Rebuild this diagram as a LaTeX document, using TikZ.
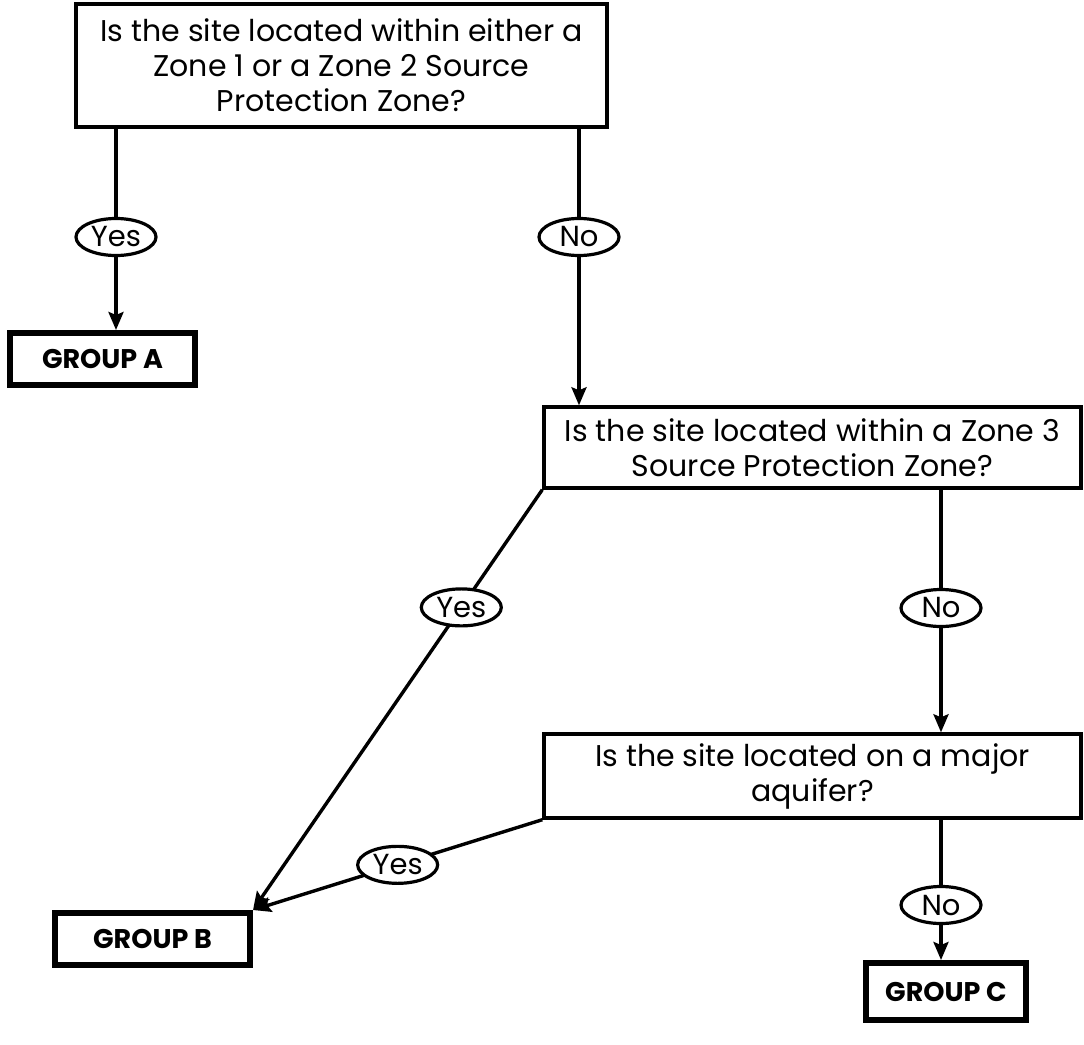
\documentclass[tikz,border=0pt]{standalone}
\usepackage{fontspec}
\setmainfont{Poppins}
\usetikzlibrary{shapes.geometric,arrows.meta,backgrounds,calc}
\begin{document}
\begin{tikzpicture}[x=1pt,y=-1pt,
  question/.style={draw,line width=3.4pt,rectangle,align=center,inner sep=0pt,
    font=\fontsize{30}{35}\selectfont},
  group/.style={draw,line width=6pt,rectangle,inner sep=0pt,
    font=\fontsize{27}{32}\selectfont\bfseries},
  answer/.style={draw,ellipse,line width=3.2pt,fill=white,inner sep=0pt,
    minimum width=80pt,minimum height=37pt,font=\fontsize{29}{32}\selectfont},
  link/.style={line width=3.4pt},
  arrow/.style={link,-{Stealth[length=18pt,width=15pt,inset=3pt]}}]
\useasboundingbox (0,0) rectangle (1084,1044);

% decision boxes
\node[question,minimum width=531pt,minimum height=123pt] (q1) at (341.5,65.5)
  {Is the site located within either a\\Zone 1 or a Zone 2 Source\\Protection Zone?};
\node[question,minimum width=537pt,minimum height=81pt] (q2) at (812.5,447.5)
  {Is the site located within a Zone 3\\Source Protection Zone?};
\node[question,minimum width=537pt,minimum height=84pt] (q3) at (812.5,776)
  {Is the site located on a major\\aquifer?};

% outcome boxes
\node[group,minimum width=185pt,minimum height=52pt] (ga) at (102.5,359) {GROUP A};
\node[group,minimum width=195pt,minimum height=52pt] (gb) at (152.5,939) {GROUP B};
\node[group,minimum width=160pt,minimum height=57pt] (gc) at (946,991.5) {GROUP C};

% answer labels
\node[answer] (y1) at (116,237) {Yes};
\node[answer] (n1) at (579,237) {No};
\node[answer] (y2) at ($(q2.south west)!0.28!(gb.north east)$) {Yes};
\node[answer] (n2) at (941,608) {No};
\node[answer] (y3) at ($(q3.south west)!0.5!(gb.north east)$) {Yes};
\node[answer] (n3) at (941,905) {No};

% white page and connectors, kept beneath the boxes
\begin{scope}[on background layer]
  \fill[white] (0,0) rectangle (1084,1044);
  \draw[arrow] (y1 |- q1.south) -- (y1.center) -- (y1 |- ga.north);
  \draw[arrow] (n1 |- q1.south) -- (n1.center) -- (n1 |- q2.north);
  \draw[arrow] (q2.south west) -- (y2.center) -- (gb.north east);
  \draw[arrow] (n2 |- q2.south) -- (n2.center) -- (n2 |- q3.north);
  \draw[arrow] (q3.south west) -- (y3.center) -- (gb.north east);
  \draw[arrow] (n3 |- q3.south) -- (n3.center) -- (n3 |- gc.north);
\end{scope}
\end{tikzpicture}
\end{document}
